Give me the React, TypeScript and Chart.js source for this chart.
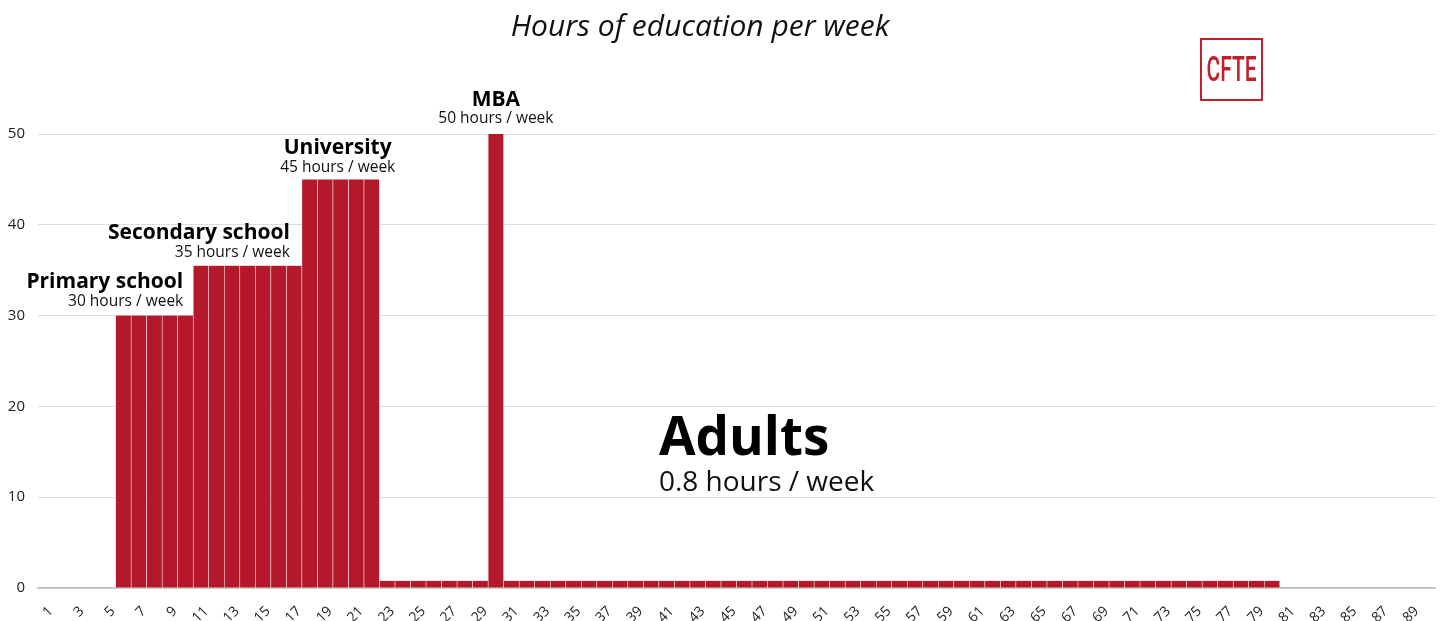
import React, { useEffect, useRef } from "react";
import { Chart, registerables } from "chart.js";

Chart.register(...registerables);

const ages: string[] = [
  "1","2","3","4","5","6","7","8","9","10",
  "11","12","13","14","15","16","17","18","19","20",
  "21","22","23","24","25","26","27","28","29","30",
  "31","32","33","34","35","36","37","38","39","40",
  "41","42","43","44","45","46","47","48","49","50",
  "51","52","53","54","55","56","57","58","59","60",
  "61","62","63","64","65","66","67","68","69","70",
  "71","72","73","74","75","76","77","78","79","80",
  "81","82","83","84","85","86","87","88","89","90",
];

const hours: number[] = [
  0, 0, 0, 0, 0, 30, 30, 30, 30, 30,
  35.5, 35.5, 35.5, 35.5, 35.5, 35.5, 35.5, 45, 45, 45,
  45, 45, 0.8, 0.8, 0.8, 0.8, 0.8, 0.8, 0.8, 50,
  0.8, 0.8, 0.8, 0.8, 0.8, 0.8, 0.8, 0.8, 0.8, 0.8,
  0.8, 0.8, 0.8, 0.8, 0.8, 0.8, 0.8, 0.8, 0.8, 0.8,
  0.8, 0.8, 0.8, 0.8, 0.8, 0.8, 0.8, 0.8, 0.8, 0.8,
  0.8, 0.8, 0.8, 0.8, 0.8, 0.8, 0.8, 0.8, 0.8, 0.8,
  0.8, 0.8, 0.8, 0.8, 0.8, 0.8, 0.8, 0.8, 0.8, 0.8,
  0, 0, 0, 0, 0, 0, 0, 0, 0, 0,
];

const yTicks: number[] = [0, 10, 20, 30, 40, 50];

const stageNames: string[] = ["Primary school", "Secondary school", "University", "MBA", "Adults"];
const stageLabels: string[] = ["30 hours / week", "35 hours / week", "45 hours / week", "50 hours / week", "0.8 hours / week"];

const TITLE = "Hours of education per week";
const LOGO = "CFTE";

const FONT = "'Open Sans', 'Noto Sans', sans-serif";
const BAR = "#B5172B";
const LOGO_RED = "#C0202E";

const annotationPlugin = {
  id: "annotations",
  afterDatasetsDraw(chart: any) {
    const { ctx, scales } = chart;
    const x = scales.x;
    const y = scales.y;
    const half = (x.getPixelForValue(1) - x.getPixelForValue(0)) / 2;
    ctx.save();
    ctx.textBaseline = "middle";

    const draw = (name: string, sub: string, px: number, align: CanvasTextAlign, yName: number, ySub: number, nameSize: number, subSize: number) => {
      ctx.textAlign = align;
      ctx.font = `700 ${nameSize}px ${FONT}`;
      ctx.fillStyle = "#000";
      ctx.fillText(name, px, yName);
      ctx.font = `400 ${subSize}px ${FONT}`;
      ctx.fillStyle = "#111";
      ctx.fillText(sub, px, ySub);
    };

    // Primary school
    const pX = x.getPixelForValue(10) - half - 10;
    draw(stageNames[0], stageLabels[0], pX, "right", y.getPixelForValue(30) - 34, y.getPixelForValue(30) - 14, 21, 15.5);
    // Secondary school
    const sX = x.getPixelForValue(17) - half - 12;
    draw(stageNames[1], stageLabels[1], sX, "right", y.getPixelForValue(35.5) - 33, y.getPixelForValue(35.5) - 13, 21, 15.5);
    // University
    const uX = (x.getPixelForValue(17) + x.getPixelForValue(21)) / 2 - 3;
    draw(stageNames[2], stageLabels[2], uX, "center", y.getPixelForValue(45) - 31, y.getPixelForValue(45) - 12, 21, 15.5);
    // MBA
    const mX = x.getPixelForValue(29);
    draw(stageNames[3], stageLabels[3], mX, "center", y.getPixelForValue(50) - 34, y.getPixelForValue(50) - 15, 21, 15.5);
    // Adults
    const aX = x.getPixelForValue(40) - half;
    draw(stageNames[4], stageLabels[4], aX, "left", y.getPixelForValue(16.3), y.getPixelForValue(11.6), 53, 28);

    // Title
    ctx.textAlign = "center";
    ctx.font = `italic 400 30px ${FONT}`;
    ctx.fillStyle = "#111";
    ctx.fillText(TITLE, 700, 27);

    // Logo
    ctx.strokeStyle = LOGO_RED;
    ctx.lineWidth = 2;
    ctx.strokeRect(1201, 39, 61, 61);
    ctx.fillStyle = LOGO_RED;
    ctx.font = `500 35px Roboto, sans-serif`;
    ctx.textAlign = "center";
    const w = ctx.measureText(LOGO).width;
    ctx.translate(1231.5, 71);
    ctx.scale(50 / w, 1);
    ctx.fillText(LOGO, 0, 1);
    ctx.restore();
  },
};

export default function App() {
  const canvasRef = useRef<HTMLCanvasElement | null>(null);

  useEffect(() => {
    document.body.style.margin = "0";
    const canvas = canvasRef.current;
    if (!canvas) return;
    const chart = new Chart(canvas, {
      type: "bar",
      data: {
        labels: ages,
        datasets: [
          {
            data: hours,
            backgroundColor: BAR,
            borderColor: "rgba(255,255,255,0.6)",
            borderWidth: { left: 0.6, right: 0.6, top: 0, bottom: 0 },
            borderSkipped: false,
            barPercentage: 1,
            categoryPercentage: 1,
          },
        ],
      },
      options: {
        animation: false,
        responsive: true,
        maintainAspectRatio: false,
        layout: { padding: { top: 134, left: 8, right: 7, bottom: 0 } },
        plugins: {
          legend: { display: false },
          tooltip: { enabled: false },
          title: { display: false },
        },
        scales: {
          x: {
            grid: { display: false, drawTicks: false },
            border: { display: true, color: "#bdbdbd", width: 1.5 },
            afterFit: (axis: any) => {
              axis.height = 33;
              axis.paddingLeft = 0;
              axis.paddingRight = 0;
            },
            ticks: {
              autoSkip: false,
              minRotation: 45,
              maxRotation: 45,
              padding: 15,
              labelOffset: 5,
              color: "#222",
              font: { family: FONT, size: 14 },
              callback: (_v: any, i: number) => (i % 2 === 0 ? ages[i] : ""),
            },
          },
          y: {
            min: 0,
            max: 50,
            afterBuildTicks: (axis: any) => {
              axis.ticks = yTicks.map((v) => ({ value: v }));
            },
            afterFit: (axis: any) => {
              axis.width = 30;
            },
            grid: { color: "#dddddd", drawTicks: false },
            border: { display: false },
            ticks: {
              padding: 13,
              color: "#222",
              font: { family: FONT, size: 15 },
            },
          },
        },
      },
      plugins: [annotationPlugin],
    });
    return () => chart.destroy();
  }, []);

  return (
    <div style={{ width: 1442, height: 621, position: "relative" }}>
      <canvas ref={canvasRef} />
    </div>
  );
}
